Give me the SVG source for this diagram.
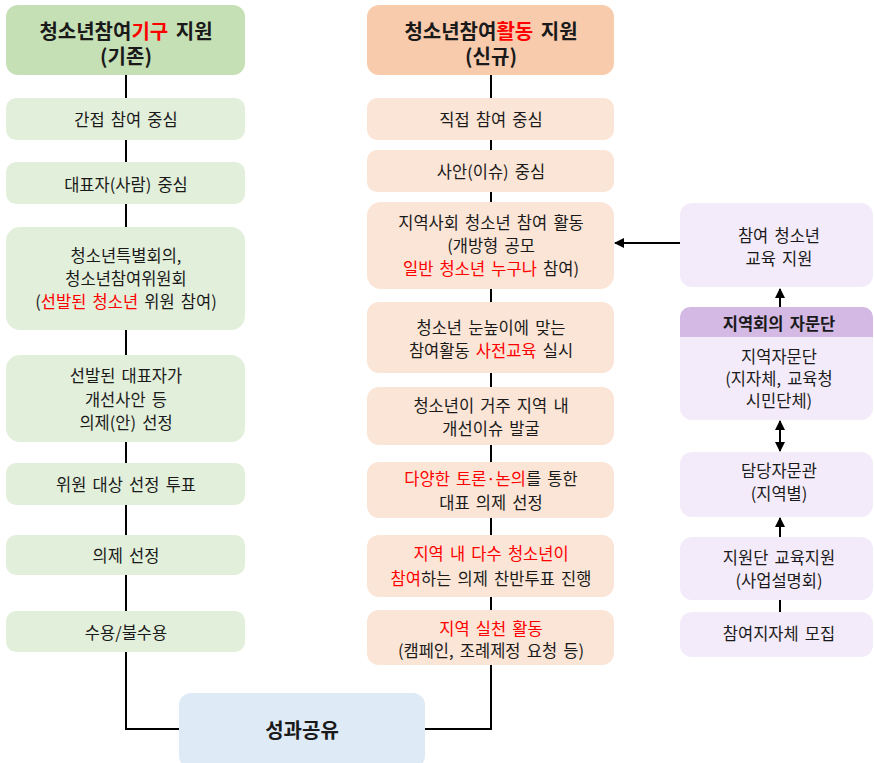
<svg xmlns="http://www.w3.org/2000/svg" width="874" height="763" viewBox="0 0 874 763">
<defs>
<style>
text{font-family:"Noto Sans CJK KR","Noto Sans",sans-serif;fill:#1a1a1a;text-anchor:middle;dominant-baseline:central}
.b{font-size:16.5px;word-spacing:2.5px}
.h{font-size:20px;font-weight:bold;word-spacing:3px}
.r{fill:#ff0000}
.gh{fill:#c5e0b4}
.g{fill:#e2efda}
.oh{fill:#f8cbad}
.o{fill:#fbe5d6}
.p{fill:#f3ebf9}
.ph{fill:#d4b9e4}
.bl{fill:#deeaf6}
.ln{stroke:#000;stroke-width:2;fill:none}
</style>
<marker id="ah" viewBox="0 0 10 10" refX="9" refY="5" markerWidth="5" markerHeight="5" orient="auto-start-reverse">
<path d="M0,0 L10,5 L0,10 z" fill="#000"/>
</marker>
</defs>
<rect width="874" height="763" fill="#fff"/>

<g id="connectors">
<path class="ln" d="M126,75V98M126,140V162M126,204V227M126,330V355M126,442V463M126,505V535M126,575V611M126,652V729H179"/>
<path class="ln" d="M491,75V98M491,140V150M491,192V202M491,289V302M491,373V387M491,445V462M491,518V535M491,597V610M491,665V729H425"/>
<path class="ln" d="M680,243H615" marker-end="url(#ah)"/>
<path class="ln" d="M780,307V289" marker-end="url(#ah)"/>
<path class="ln" d="M780,421V451" marker-start="url(#ah)" marker-end="url(#ah)"/>
<path class="ln" d="M780,537V518" marker-end="url(#ah)"/>
<path class="ln" d="M780,600V612"/>
</g>

<g id="left-header"><rect class="gh" x="6" y="5" width="239" height="70" rx="12"/>
<text class="h" x="126" y="30">청소년참여<tspan class="r">기구</tspan> 지원</text>
<text class="h" x="126" y="55">(기존)</text></g>
<g id="l1"><rect class="g" x="6" y="98" width="239" height="42" rx="10"/><text class="b" x="126" y="119">간접 참여 중심</text></g>
<g id="l2"><rect class="g" x="6" y="162" width="239" height="42" rx="10"/><text class="b" x="126" y="184">대표자(사람) 중심</text></g>
<g id="l3"><rect class="g" x="6" y="227" width="239" height="103" rx="14"/>
<text class="b" x="126" y="255">청소년특별회의,</text>
<text class="b" x="126" y="278">청소년참여위원회</text>
<text class="b" x="126" y="301">(<tspan class="r">선발된 청소년</tspan> 위원 참여)</text></g>
<g id="l4"><rect class="g" x="6" y="355" width="239" height="87" rx="14"/>
<text class="b" x="126" y="375">선발된 대표자가</text>
<text class="b" x="126" y="399">개선사안 등</text>
<text class="b" x="126" y="422">의제(안) 선정</text></g>
<g id="l5"><rect class="g" x="6" y="463" width="239" height="42" rx="10"/><text class="b" x="126" y="484">위원 대상 선정 투표</text></g>
<g id="l6"><rect class="g" x="6" y="535" width="239" height="40" rx="10"/><text class="b" x="126" y="555">의제 선정</text></g>
<g id="l7"><rect class="g" x="6" y="611" width="239" height="41" rx="10"/><text class="b" x="126" y="632">수용/불수용</text></g>

<g id="mid-header"><rect class="oh" x="367" y="5" width="247" height="70" rx="12"/>
<text class="h" x="491" y="30">청소년참여<tspan class="r">활동</tspan> 지원</text>
<text class="h" x="491" y="55">(신규)</text></g>
<g id="m1"><rect class="o" x="367" y="98" width="247" height="42" rx="10"/><text class="b" x="491" y="119">직접 참여 중심</text></g>
<g id="m2"><rect class="o" x="367" y="150" width="247" height="42" rx="10"/><text class="b" x="491" y="171">사안(이슈) 중심</text></g>
<g id="m3"><rect class="o" x="367" y="202" width="247" height="87" rx="14"/>
<text class="b" x="491" y="222">지역사회 청소년 참여 활동</text>
<text class="b" x="491" y="245">(개방형 공모</text>
<text class="b" x="491" y="268"><tspan class="r">일반 청소년 누구나</tspan> 참여)</text></g>
<g id="m4"><rect class="o" x="367" y="302" width="247" height="71" rx="12"/>
<text class="b" x="491" y="327">청소년 눈높이에 맞는</text>
<text class="b" x="491" y="350">참여활동 <tspan class="r">사전교육</tspan> 실시</text></g>
<g id="m5"><rect class="o" x="367" y="387" width="247" height="58" rx="12"/>
<text class="b" x="491" y="405">청소년이 거주 지역 내</text>
<text class="b" x="491" y="428">개선이슈 발굴</text></g>
<g id="m6"><rect class="o" x="367" y="462" width="247" height="56" rx="12"/>
<text class="b" x="491" y="478"><tspan class="r">다양한 토론·논의</tspan>를 통한</text>
<text class="b" x="491" y="502">대표 의제 선정</text></g>
<g id="m7"><rect class="o" x="367" y="535" width="247" height="62" rx="12"/>
<text class="b r" x="491" y="553">지역 내 다수 청소년이</text>
<text class="b" x="491" y="578"><tspan class="r">참여</tspan>하는 의제 찬반투표 진행</text></g>
<g id="m8"><rect class="o" x="367" y="610" width="247" height="55" rx="12"/>
<text class="b r" x="491" y="628">지역 실천 활동</text>
<text class="b" x="491" y="650">(캠페인, 조례제정 요청 등)</text></g>

<g id="result"><rect class="bl" x="179" y="693" width="246" height="75" rx="12"/>
<text class="h" x="302" y="729">성과공유</text></g>

<g id="r1"><rect class="p" x="680" y="203" width="193" height="84" rx="12"/>
<text class="b" x="779" y="235">참여 청소년</text>
<text class="b" x="779" y="258">교육 지원</text></g>
<g id="r2"><rect class="p" x="680" y="307" width="193" height="113" rx="12"/>
<path class="ph" d="M690,307H863A10,10 0 0 1 873,317V337H680V317A10,10 0 0 1 690,307z"/>
<text class="b" x="779" y="323" style="font-weight:bold">지역회의 자문단</text>
<text class="b" x="779" y="356">지역자문단</text>
<text class="b" x="779" y="378">(지자체, 교육청</text>
<text class="b" x="779" y="400">시민단체)</text></g>
<g id="r3"><rect class="p" x="680" y="452" width="193" height="65" rx="12"/>
<text class="b" x="779" y="470">담당자문관</text>
<text class="b" x="779" y="493">(지역별)</text></g>
<g id="r4"><rect class="p" x="680" y="537" width="193" height="63" rx="12"/>
<text class="b" x="779" y="557">지원단 교육지원</text>
<text class="b" x="779" y="580">(사업설명회)</text></g>
<g id="r5"><rect class="p" x="680" y="612" width="193" height="45" rx="12"/>
<text class="b" x="779" y="633">참여지자체 모집</text></g>
</svg>
